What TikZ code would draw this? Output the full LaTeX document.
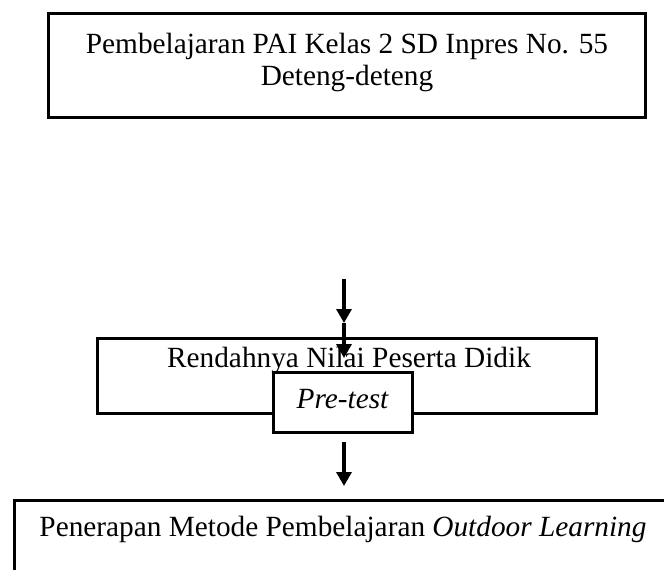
\documentclass[tikz,border=0pt]{standalone}
\usepackage{fontspec}
\setmainfont{Liberation Serif}
\usetikzlibrary{arrows.meta}
\begin{document}
\begin{tikzpicture}[x=1pt,y=-1pt,
  box/.style={draw=black, line width=3pt, rectangle, inner sep=0pt},
  txt/.style={font=\fontsize{29.3}{32}\selectfont, inner sep=0pt},
  arr/.style={line width=3.2pt, -{Triangle[width=15pt,length=14pt]}}]
\useasboundingbox (0,0) rectangle (664,570);
\clip (0,0) rectangle (664,570);
% top box
\node (top) [box, minimum width=597pt, minimum height=104pt] at (346.5,65) {};
\node (toptext1) [txt, anchor=base] at (347,53) {Pembelajaran PAI Kelas 2 SD Inpres No. 55};
\node (toptext2) [txt, anchor=base] at (347,85) {Deteng-deteng};
% middle box
\node (mid) [box, minimum width=499pt, minimum height=75pt] at (346.5,375.5) {};
\node (midtext) [txt, anchor=base] at (349,367) {Rendahnya Nilai Peserta Didik};
% pre-test box
\node (pre) [box, fill=white, minimum width=139pt, minimum height=60pt] at (342.5,402) {};
\node (pretext) [txt, anchor=base] at (342.5,408) {\itshape Pre-test};
% bottom box
\node (bot) [box, minimum width=660pt, minimum height=80pt] at (344,540) {};
\node (bottext) [txt, anchor=base] at (343,536) {Penerapan Metode Pembelajaran \textit{Outdoor Learning}};
% arrows
\coordinate (a0) at (344,279);
\coordinate (a1) at (344,323);
\coordinate (a2) at (344,358);
\coordinate (b0) at (344,442);
\coordinate (b1) at (344,486);
\draw[arr] (a0) -- (a1);
\draw[arr] (a1) -- (a2);
\draw[arr] (b0) -- (b1);
\end{tikzpicture}
\end{document}
